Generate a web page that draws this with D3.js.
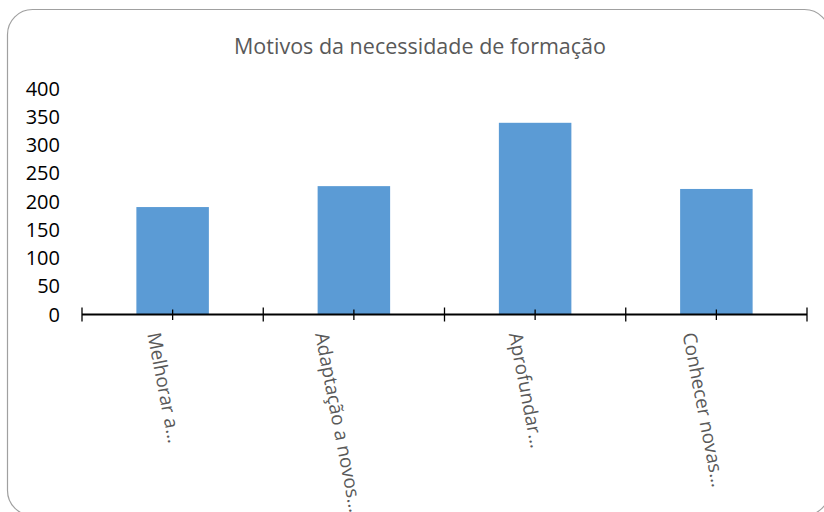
<!DOCTYPE html>
<html>
<head>
<meta charset="utf-8">
<script src="https://cdn.jsdelivr.net/npm/d3@7/dist/d3.min.js"></script>
<style>
  html, body { margin: 0; padding: 0; background: #fff; }
  svg { display: block; }
</style>
</head>
<body>
<svg id="chart" width="824" height="512"></svg>
<script>
const title = "Motivos da necessidade de formação";
const categories = ["Melhorar a…", "Adaptação a novos…", "Aprofundar…", "Conhecer novas…"];
const values = [190, 227, 339, 222];
const yTicks = [0, 50, 100, 150, 200, 250, 300, 350, 400];

const svg = d3.select("#chart");
const font = "'Open Sans', 'Liberation Sans', sans-serif";

// chart area border
svg.append("rect")
  .attr("x", 7.5).attr("y", 9.5)
  .attr("width", 822).attr("height", 506)
  .attr("rx", 25).attr("ry", 25)
  .attr("fill", "#fff")
  .attr("stroke", "#a0a0a0")
  .attr("stroke-width", 1.2);

// title
svg.append("text")
  .attr("x", 420).attr("y", 54)
  .attr("text-anchor", "middle")
  .attr("font-family", font)
  .attr("font-size", 22)
  .attr("fill", "#595959")
  .attr("textLength", 372)
  .attr("lengthAdjust", "spacingAndGlyphs")
  .text(title);

const x = d3.scaleBand().domain(categories).range([82, 807]).padding(0);
const y = d3.scaleLinear().domain([0, 400]).range([314.5, 88.3]);

// bars
svg.append("g").selectAll("rect")
  .data(categories)
  .join("rect")
  .attr("x", d => x(d) + x.bandwidth() * 0.3)
  .attr("width", x.bandwidth() * 0.4)
  .attr("y", (d, i) => y(values[i]))
  .attr("height", (d, i) => y(0) - y(values[i]))
  .attr("fill", "#5B9BD5");

// y labels
svg.append("g").selectAll("text")
  .data(yTicks)
  .join("text")
  .attr("x", 60)
  .attr("y", d => y(d))
  .attr("dy", "0.36em")
  .attr("text-anchor", "end")
  .attr("font-family", font)
  .attr("font-size", 20)
  .attr("fill", "#000")
  .text(d => d);

// x axis line
const axisG = svg.append("g");
axisG.append("line")
  .attr("x1", x.range()[0]).attr("x2", x.range()[1])
  .attr("y1", y(0)).attr("y2", y(0))
  .attr("stroke", "#000").attr("stroke-width", 2.2);

const bounds = categories.map(d => x(d)).concat([x.range()[1]]);
axisG.selectAll(".bt").data(bounds).join("line")
  .attr("x1", d => d).attr("x2", d => d)
  .attr("y1", y(0) - 7).attr("y2", y(0) + 7)
  .attr("stroke", "#000").attr("stroke-width", 1.3);
axisG.selectAll(".ct").data(categories).join("line")
  .attr("x1", d => x(d) + x.bandwidth() / 2).attr("x2", d => x(d) + x.bandwidth() / 2)
  .attr("y1", y(0) - 5).attr("y2", y(0) + 5.5)
  .attr("stroke", "#000").attr("stroke-width", 1.3);

// x labels rotated
const ang = 79;
const rad = ang * Math.PI / 180;
svg.append("g").selectAll("text")
  .data(categories)
  .join("text")
  .attr("font-family", font)
  .attr("font-size", 19)
  .attr("fill", "#595959")
  .attr("text-anchor", "start")
  .text(d => d)
  .each(function(d) {
    const L = this.getComputedTextLength();
    const cx = x(d) + x.bandwidth() / 2;
    const ax = cx - 4 - L * Math.cos(rad);
    const ay = 334;
    d3.select(this).attr("transform", `translate(${ax},${ay}) rotate(${ang})`);
  });
</script>
</body>
</html>
